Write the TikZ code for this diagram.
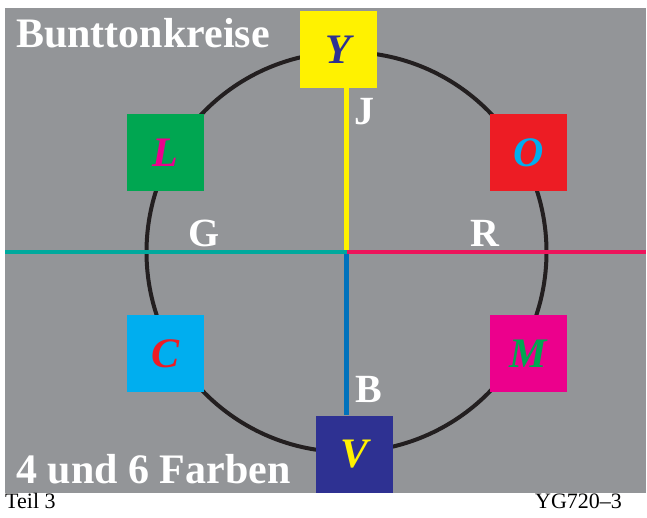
\documentclass[tikz,border=0pt]{standalone}
\usepackage{fontspec}
\setmainfont{Liberation Serif}
\usetikzlibrary{positioning}

\definecolor{bggray}{RGB}{147,149,152}
\definecolor{hueY}{RGB}{255,242,0}
\definecolor{hueL}{RGB}{0,166,81}
\definecolor{hueO}{RGB}{237,28,36}
\definecolor{hueC}{RGB}{0,174,239}
\definecolor{hueM}{RGB}{236,0,140}
\definecolor{hueV}{RGB}{46,49,146}
\definecolor{lineG}{RGB}{0,169,157}
\definecolor{lineR}{RGB}{237,20,91}
\definecolor{lineB}{RGB}{0,114,188}
\definecolor{ringblack}{RGB}{35,31,32}

\tikzset{
  huebox/.style={draw=none, minimum size=77pt, inner sep=0pt,
    font=\fontsize{42}{42}\selectfont\bfseries\itshape},
  axislabel/.style={anchor=base west, inner sep=0pt, text=white,
    font=\fontsize{40}{40}\selectfont\bfseries},
  titlelabel/.style={anchor=base west, inner sep=0pt, text=white,
    font=\fontsize{42}{42}\selectfont\bfseries},
  footlabel/.style={anchor=base west, inner sep=0pt,
    font=\fontsize{22}{22}\selectfont},
  axis/.style={line width=4.5pt}
}

\begin{document}
\begin{tikzpicture}[x=1pt, y=-1pt]
				\useasboundingbox (0,0) rectangle (647,518);
				\fill[bggray] (5,8) rectangle (646,493);
				\coordinate (ctr) at (346.5,252);
				\coordinate (westend) at (5,252);
				\coordinate (eastend) at (646,252);
				\draw[ringblack, line width=4pt] (ctr) circle (200);
				% hue squares
				\node[huebox, fill=hueY, text=hueV] (Y) at (338.5,49.5) {Y};
				\node[huebox, fill=hueL, text=hueM] (L) at (165.5,152.5) {L};
				\node[huebox, fill=hueO, text=hueC] (O) at (528.5,152.5) {O};
				\node[huebox, fill=hueC, text=hueO] (C) at (165.5,353.5) {C};
				\node[huebox, fill=hueM, text=hueL] (M) at (528.5,353.5) {M};
				\node[huebox, fill=hueV, text=hueY] (V) at (354.5,454) {V};
				% axes
				\draw[axis, hueY] (Y.south -| ctr) -- (ctr);
				\draw[axis, lineB] (ctr) -- (V.north -| ctr);
				\draw[axis, lineG] (westend) -- (ctr);
				\draw[axis, lineR] (ctr) -- (eastend);
				\node[axislabel] (J) at (354,125) {J};
				\node[axislabel] (G) at (188,247) {G};
				\node[axislabel] (R) at (470,247) {R};
				\node[axislabel] (B) at (355,402) {B};
				% titles
				\node[titlelabel] (title) at (16,48) {Bunttonkreise};
				\node[titlelabel] (subtitle) at (16,483) {4 und 6 Farben};
				\node[footlabel] (part) at (5,508.5) {Teil 3};
				\node[footlabel] (code) at (535,508.5) {YG720--3};
\end{tikzpicture}
\end{document}
